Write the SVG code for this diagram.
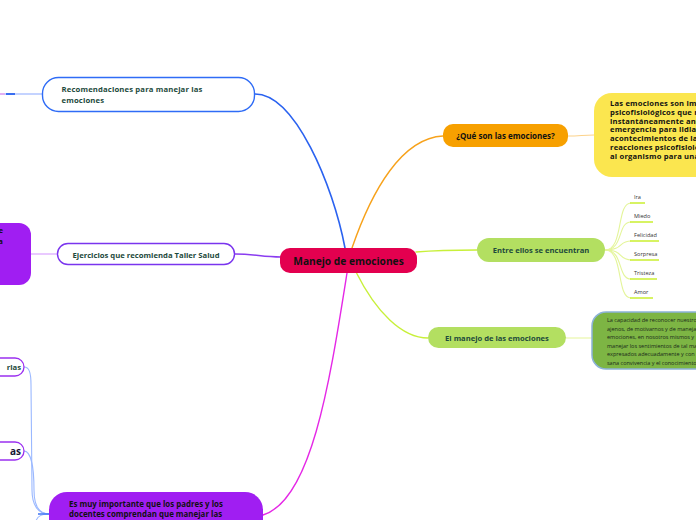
<svg xmlns="http://www.w3.org/2000/svg" width="696" height="520" viewBox="0 0 696 520">
<style>
text{font-family:"Open Sans","Noto Sans","Liberation Sans",sans-serif;}
.b{font-weight:700;}
.dg{fill:#1d4a3c;}
.bk{fill:#111;}
.conn{fill:none;stroke-linecap:round;}
.leaf{font-size:5.6px;fill:#333;}
.ul{stroke:#cdf03c;stroke-width:1.6;}
</style>
<rect width="696" height="520" fill="#fff"/>
<g id="connectors">
  <path class="conn" d="M255,94 C295,94 333,185 345,248" stroke="#2a62f0" stroke-width="1.6"/>
  <path class="conn" d="M352,248 C372,190 402,138 443,136" stroke="#f7a21b" stroke-width="1.4"/>
  <path class="conn" d="M235,254 C255,254 262,257 281,257" stroke="#8a3cf0" stroke-width="1.4"/>
  <path class="conn" d="M416,252 C440,250 455,250 477,250" stroke="#c8f03a" stroke-width="1.4"/>
  <path class="conn" d="M356,272 C376,312 402,338 428,338" stroke="#c8f03a" stroke-width="1.4"/>
  <path class="conn" d="M347,273 C330,380 312,500 263,515" stroke="#e528e6" stroke-width="1.4"/>
  <path class="conn" d="M568,136 C580,136 583,135 594,135" stroke="#fcd28a" stroke-width="1.2"/>
  <path class="conn" d="M566,338 C578,338 582,338 592,338" stroke="#e6f59a" stroke-width="1.2"/>
  <path class="conn" d="M31,254 L57,254" stroke="#e2b8ff" stroke-width="1.4"/>
  <path class="conn" d="M0,94 L42,94" stroke="#8aa8ff" stroke-width="1.2"/>
  <path d="M0,94 L5,94" stroke="#f0a0f0" stroke-width="1.4"/>
  <path d="M6,94 L15,94" stroke="#2a62f0" stroke-width="1.8"/>
  <g stroke="#e4f59a" stroke-width="1.1" fill="none">
    <path d="M605,250 C624,250 616,203 631,203"/>
    <path d="M605,250 C624,250 617,222 631,222"/>
    <path d="M605,250 C624,250 618,241 631,241"/>
    <path d="M605,250 C624,250 618,260 631,260"/>
    <path d="M605,250 C624,250 617,279 631,279"/>
    <path d="M605,250 C624,250 616,298 631,298"/>
  </g>
  <g stroke="#9ab8ff" stroke-width="1.1" fill="none">
    <path d="M49,514 C38,514 32,505 32,490 L31,385 C31,372 29,367 24,367"/>
    <path d="M49,514 C39,514 34,505 34,490 C34,468 31,451 24,451"/>
    <path d="M49,514 C41,514 37,517 36,521"/>
  </g>
  <path d="M38,514 L49,514" stroke="#4a7cf5" stroke-width="1.6"/>
</g>
<g id="n-central">
  <rect x="280" y="248" width="137" height="25" rx="10" fill="#e3004f"/>
  <text x="348.5" y="264.5" text-anchor="middle" font-size="10.2" class="b bk">Manejo de emociones</text>
</g>
<g id="n-recomendaciones">
  <rect x="42.5" y="77.5" width="212" height="34" rx="16" fill="#fff" stroke="#2f6cf6" stroke-width="1.4"/>
  <text x="61.5" y="92" font-size="7.7" letter-spacing="0.15" class="b dg">Recomendaciones para manejar las</text>
  <text x="61.5" y="103" font-size="7.7" letter-spacing="0.15" class="b dg">emociones</text>
</g>
<g id="n-ejercicios">
  <rect x="57.5" y="243.5" width="177" height="21" rx="10.5" fill="#fff" stroke="#7a34ee" stroke-width="1.4"/>
  <text x="146" y="257.5" text-anchor="middle" font-size="7.7" class="b dg">Ejercicios que recomienda Taller Salud</text>
</g>
<g id="n-left-purple">
  <rect x="-30" y="223" width="61" height="62" rx="12" fill="#a01ef2"/>
  <text x="3" y="233" text-anchor="end" font-size="7.7" class="b bk">e</text>
  <text x="3" y="244" text-anchor="end" font-size="7.7" class="b bk">a</text>
</g>
<g id="n-que-son">
  <rect x="443" y="124" width="125" height="23" rx="10" fill="#f7a000"/>
  <text x="505.5" y="138.5" text-anchor="middle" font-size="8" class="b bk">¿Qué son las emociones?</text>
</g>
<g id="n-definicion">
  <rect x="594" y="93" width="140" height="84" rx="18" fill="#fbe64f"/>
  <g font-size="7.6" letter-spacing="0.2" class="b bk">
    <text x="610" y="105.5">Las emociones son impulsos</text>
    <text x="610" y="114.5">psicofisiológicos que nos</text>
    <text x="610" y="123.5">instantáneamente ante</text>
    <text x="610" y="132.4">emergencia para lidiar</text>
    <text x="610" y="141.3">acontecimientos de la</text>
    <text x="610" y="150.2">reacciones psicofisiológicas</text>
    <text x="610" y="159.4">al organismo para una</text>
  </g>
</g>
<g id="n-entre">
  <rect x="477" y="238" width="128" height="24" rx="12" fill="#b3df61"/>
  <text x="541" y="253" text-anchor="middle" font-size="7.6" class="b dg">Entre ellos se encuentran</text>
</g>
<g id="n-ira"><text x="634" y="199" class="leaf">Ira</text><line x1="630" y1="203" x2="645" y2="203" class="ul"/></g>
<g id="n-miedo"><text x="634" y="218" class="leaf">Miedo</text><line x1="630" y1="222" x2="653" y2="222" class="ul"/></g>
<g id="n-felicidad"><text x="634" y="237" class="leaf">Felicidad</text><line x1="630" y1="241" x2="659" y2="241" class="ul"/></g>
<g id="n-sorpresa"><text x="634" y="256" class="leaf">Sorpresa</text><line x1="630" y1="260" x2="659" y2="260" class="ul"/></g>
<g id="n-tristeza"><text x="634" y="275" class="leaf">Tristeza</text><line x1="630" y1="279" x2="657" y2="279" class="ul"/></g>
<g id="n-amor"><text x="634" y="294" class="leaf">Amor</text><line x1="630" y1="298" x2="653" y2="298" class="ul"/></g>
<g id="n-manejo">
  <rect x="428" y="327" width="138" height="21" rx="10.5" fill="#b3df61"/>
  <text x="497" y="340.5" text-anchor="middle" font-size="7.6" class="b dg">El manejo de las emociones</text>
</g>
<g id="n-capacidad">
  <rect x="592" y="312" width="140" height="57" rx="14" fill="#7db544" stroke="#8cb2d8" stroke-width="1.5"/>
  <g font-size="5.5" fill="#1a2a1a">
    <text x="607" y="322">La capacidad de reconocer nuestros</text>
    <text x="607" y="330.5">ajenos, de motivarnos y de manejar</text>
    <text x="607" y="339">emociones, en nosotros mismos y</text>
    <text x="607" y="347.5">manejar los sentimientos de tal manera</text>
    <text x="607" y="356">expresados adecuadamente y con</text>
    <text x="607" y="364.5">sana convivencia y el conocimiento</text>
  </g>
</g>
<g id="n-las">
  <rect x="-100" y="358" width="124" height="18" rx="9" fill="#fff" stroke="#9b30f0" stroke-width="1.3"/>
  <text x="21" y="370" text-anchor="end" font-size="7.7" class="b dg">rlas</text>
</g>
<g id="n-as">
  <rect x="-100" y="442" width="124" height="18" rx="9" fill="#fff" stroke="#9b30f0" stroke-width="1.3"/>
  <text x="21" y="455" text-anchor="end" font-size="10" class="b" fill="#151535">as</text>
</g>
<g id="n-importante">
  <rect x="49" y="492" width="214" height="70" rx="18" fill="#a01ef2"/>
  <text x="69" y="507" font-size="7.9" class="b bk">Es muy importante que los padres y los</text>
  <text x="69" y="517" font-size="7.9" class="b bk">docentes comprendan que manejar las</text>
</g>
</svg>
